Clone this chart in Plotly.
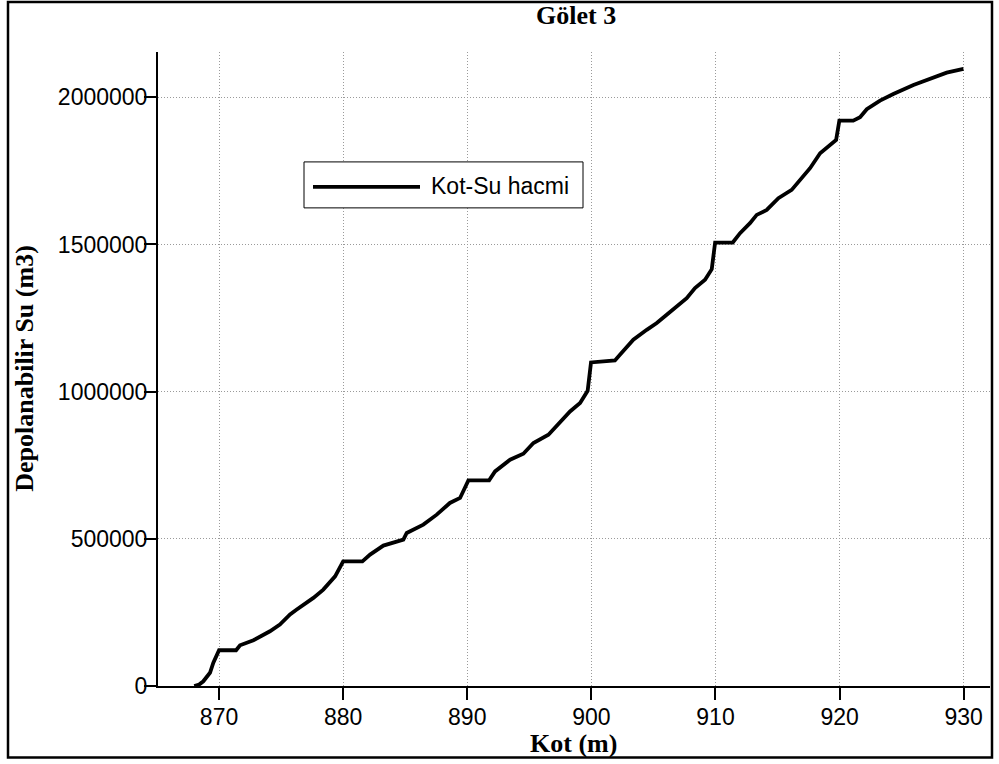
import plotly.graph_objects as go

kot = [868.0, 868.4, 868.73, 869.27, 869.54, 870.0, 871.37, 871.69, 872.77, 874.1,
       874.9, 875.72, 876.26, 877.6, 878.4, 879.35, 880.0, 881.55, 882.17, 883.24,
       884.85, 885.12, 886.46, 887.54, 888.6, 889.42, 890.09, 891.76, 892.24, 893.45,
       894.52, 895.33, 896.54, 897.48, 898.28, 899.09, 899.7, 899.97, 901.9, 902.3,
       903.38, 904.46, 905.27, 906.07, 906.88, 907.68, 908.35, 909.16, 909.7, 909.97,
       911.39, 911.98, 912.78, 913.32, 914.13, 915.07, 916.14, 916.82, 917.62, 918.43,
       919.5, 919.72, 919.98, 921.1, 921.65, 922.19, 923.26, 924.33, 925.95, 927.55,
       928.63, 929.98]
hacim = [0, 5000, 16000, 45000, 79000, 121500, 121500, 138500, 155500, 186000,
         208700, 243000, 259700, 299400, 327500, 372700, 423600, 423600, 446400, 477000,
         497300, 520000, 548200, 582100, 621800, 638800, 698600, 698600, 729100, 768800,
         789200, 825500, 853700, 898800, 932700, 961300, 1003000, 1099100, 1105900, 1125000,
         1176200, 1210000, 1232900, 1261000, 1289200, 1317700, 1351700, 1379800, 1416100, 1506500,
         1506500, 1538300, 1572300, 1600400, 1617400, 1657200, 1685300, 1719300, 1759000, 1809900,
         1845900, 1855000, 1920500, 1920500, 1932100, 1959200, 1988500, 2011200, 2041700, 2067800,
         2083600, 2096100]

x_ticks = [870, 880, 890, 900, 910, 920, 930]
y_ticks = [0, 500000, 1000000, 1500000, 2000000]
y_tick_text = ["0", "500000", "1000000", "1500000", "2000000"]

title_text = "Gölet 3"
x_title = "Kot (m)"
y_title = "Depolanabilir Su (m3)"
series_name = "Kot-Su hacmi"

# plot area in pixels: x 158..990, y 52..686.5
L, R, T, B = 158, 990, 52, 686.5
W, H = 999, 764
def px(xp):
    return (xp - L) / (R - L)
def py(yp):
    return (B - yp) / (B - T)

fig = go.Figure()
fig.add_trace(go.Scatter(x=kot, y=hacim, mode="lines", name=series_name,
                         line=dict(color="black", width=3.8), showlegend=False))

tickfont = dict(family="Liberation Sans, Arial", size=23, color="black")
grid = dict(showgrid=True, gridcolor="#9a9a9a", griddash="1px,2px", gridwidth=1)
fig.update_layout(
    width=W, height=H, autosize=False,
    margin=dict(l=L, r=W - R, t=T, b=H - B),
    paper_bgcolor="white", plot_bgcolor="white",
    showlegend=False,
    xaxis=dict(range=[865.08, 932.12], tickvals=x_ticks, ticks="outside", ticklen=12,
               tickwidth=2, tickcolor="black", showline=True, linecolor="black", linewidth=2,
               zeroline=False, tickfont=tickfont, mirror=False, ticklabelstandoff=-3, **grid),
    yaxis=dict(range=[0, 2153800], tickvals=y_ticks, ticktext=y_tick_text, ticks="outside",
               ticklen=12, tickwidth=2, tickcolor="black", showline=True, linecolor="black",
               linewidth=2, zeroline=False, tickfont=tickfont, mirror=False,
               ticklabelstandoff=-8, **grid),
)

serif = "Liberation Serif, Times New Roman"
fig.add_annotation(text="<b>" + title_text + "</b>", xref="paper", yref="paper",
                   x=px(576), y=py(15), xanchor="center", yanchor="middle", showarrow=False,
                   font=dict(family=serif, size=26, color="black"))
fig.add_annotation(text="<b>" + x_title + "</b>", xref="paper", yref="paper",
                   x=px(573.5), y=py(744), xanchor="center", yanchor="middle", showarrow=False,
                   font=dict(family=serif, size=26, color="black"))
fig.add_annotation(text="<b>" + y_title + "</b>", xref="paper", yref="paper",
                   x=px(25), y=py(369), xanchor="center", yanchor="middle", showarrow=False,
                   textangle=-90, font=dict(family=serif, size=26, color="black"))

# outer frame
fig.add_shape(type="rect", xref="paper", yref="paper", x0=px(8), x1=px(992), y0=py(758), y1=py(2),
              line=dict(color="black", width=2.5), layer="above")

# legend box (manual)
fig.add_shape(type="rect", xref="paper", yref="paper", x0=px(304), x1=px(583), y0=py(208), y1=py(162),
              line=dict(color="black", width=1), fillcolor="white", layer="above")
fig.add_shape(type="line", xref="paper", yref="paper", x0=px(313), x1=px(420), y0=py(187), y1=py(187),
              line=dict(color="black", width=3.8), layer="above")
fig.add_annotation(text=series_name, xref="paper", yref="paper", x=px(429), y=py(186),
                   xanchor="left", yanchor="middle", showarrow=False,
                   font=dict(family="Liberation Sans, Arial", size=23, color="black"))

fig.write_html("out.html")
